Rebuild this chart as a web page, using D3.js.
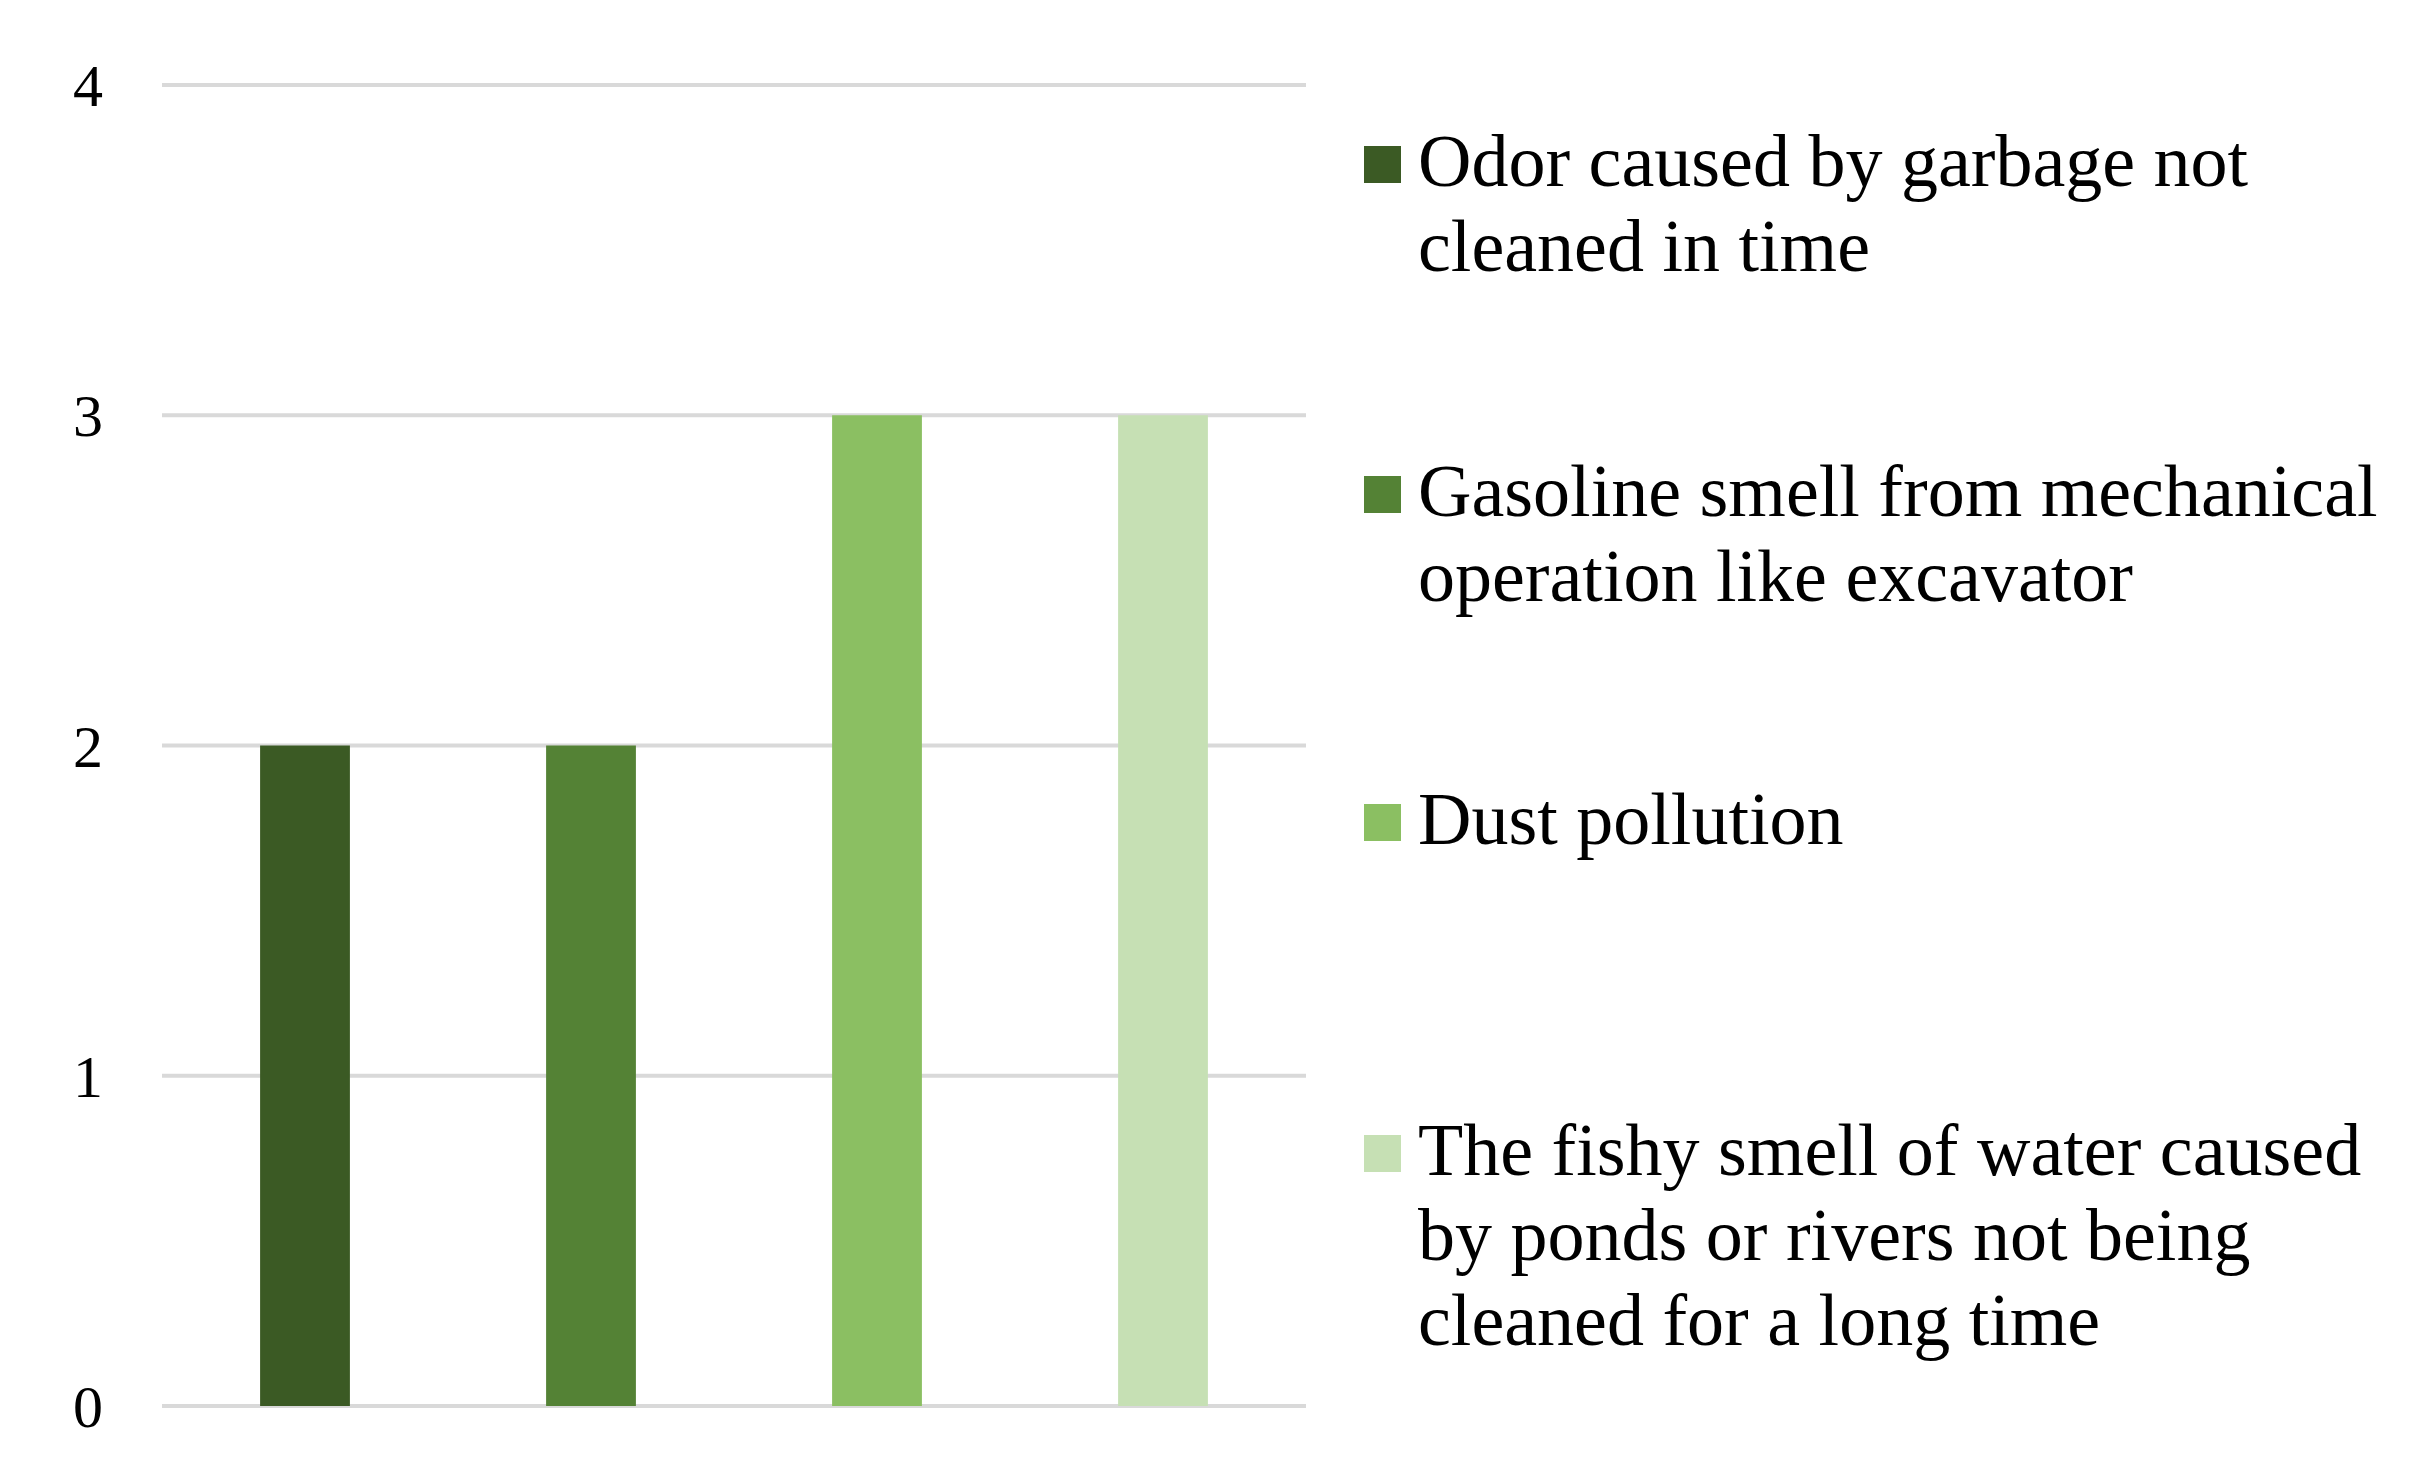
<!DOCTYPE html>
<html><head><meta charset="utf-8">
<script src="https://cdnjs.cloudflare.com/ajax/libs/d3/7.8.5/d3.min.js"></script>
<style>body{margin:0;background:#fff}</style></head>
<body><svg id="c" width="2410" height="1478"></svg>
<script>
const categories = ["Odor caused by garbage not cleaned in time","Gasoline smell from mechanical operation like excavator","Dust pollution","The fishy smell of water caused by ponds or rivers not being cleaned for a long time"];
const legendLines = [["Odor caused by garbage not","cleaned in time"],["Gasoline smell from mechanical","operation like excavator"],["Dust pollution"],["The fishy smell of water caused","by ponds or rivers not being","cleaned for a long time"]];
const values = [2,2,3,3];
const colors = ["#3b5a24","#548235","#8bbf62","#c6e0b4"];
const yTicks = [0,1,2,3,4];

const svg = d3.select("#c");
const font = "'Liberation Serif','Times New Roman',serif";
const x = d3.scaleBand().domain(categories).range([162,1306]).paddingInner(0.686).paddingOuter(0.343);
const y = d3.scaleLinear().domain([0,4]).range([1406,85]);

svg.append("g").selectAll("line").data(yTicks).join("line")
  .attr("x1",162).attr("x2",1306).attr("y1",d=>y(d)).attr("y2",d=>y(d))
  .attr("stroke","#d9d9d9").attr("stroke-width",4);
svg.append("g").selectAll("text").data(yTicks).join("text")
  .attr("x",103).attr("y",d=>y(d)).attr("dy","0.35em").attr("text-anchor","end")
  .attr("font-family",font).attr("font-size",60).attr("fill","#000").text(d=>d);

svg.append("g").selectAll("rect").data(values).join("rect")
  .attr("x",(d,i)=>x(categories[i])).attr("width",x.bandwidth())
  .attr("y",d=>y(d)).attr("height",d=>y(0)-y(d)).attr("fill",(d,i)=>colors[i]);

const legY = [164,494,822,1153];
const lg = svg.append("g");
legendLines.forEach((lines,i)=>{
  lg.append("rect").attr("x",1364).attr("y",legY[i]-18).attr("width",37).attr("height",37).attr("fill",colors[i]);
  lines.forEach((t,j)=>{
    lg.append("text").attr("x",1418).attr("y",legY[i]+22+j*85)
      .attr("font-family",font).attr("font-size",74).attr("fill","#000").text(t);
  });
});
</script></body></html>
